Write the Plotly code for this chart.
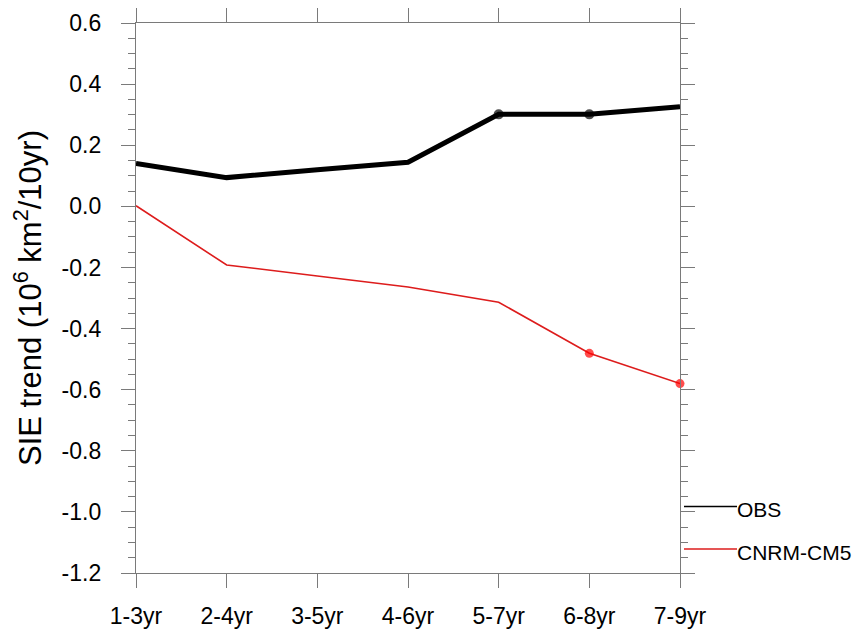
import plotly.graph_objects as go

categories = ["1-3yr", "2-4yr", "3-5yr", "4-6yr", "5-7yr", "6-8yr", "7-9yr"]
obs = [0.140, 0.094, 0.120, 0.144, 0.301, 0.301, 0.326]
cnrm = [0.002, -0.192, -0.228, -0.264, -0.314, -0.481, -0.580]
obs_sig = [False, False, False, False, True, True, False]
cnrm_sig = [False, False, False, False, False, True, True]
series_names = ["OBS", "CNRM-CM5"]
ytick_vals = [0.6, 0.4, 0.2, 0.0, -0.2, -0.4, -0.6, -0.8, -1.0, -1.2]
ytick_text = ["0.6", "0.4", "0.2", "0.0", "-0.2", "-0.4", "-0.6", "-0.8", "-1.0", "-1.2"]

AX = "#7a7a7a"
FONT = "Liberation Sans, Arial, sans-serif"
OFF = 8  # page body margin
W, H = 861 - OFF, 633 - OFF
L, T = 136 - OFF, 23 - OFF
R, B = W - (680 - OFF), H - (573 - OFF)
PW, PH = W - L - R, H - T - B

fig = go.Figure()
fig.add_trace(go.Scatter(
    x=categories, y=cnrm, mode="lines+markers", name=series_names[1],
    line=dict(color="#dd1c1c", width=1.6),
    marker=dict(color="#ff0000", size=[9 if s else 0 for s in cnrm_sig], line=dict(width=0)),
    showlegend=False, cliponaxis=False))
fig.add_trace(go.Scatter(
    x=categories, y=obs, mode="lines+markers", name=series_names[0],
    line=dict(color="black", width=5),
    marker=dict(color="black", size=[10 if s else 0 for s in obs_sig], line=dict(width=0)),
    showlegend=False, cliponaxis=False))

fig.update_layout(
    width=W, height=H,
    margin=dict(l=L, r=R, t=T, b=B, autoexpand=False),
    paper_bgcolor="white", plot_bgcolor="white",
    font=dict(family=FONT, size=23, color="black"),
)
fig.update_xaxes(
    type="category", range=[0, 6], showgrid=False, zeroline=False, automargin=False,
    showline=True, linecolor=AX, linewidth=1.3, mirror="ticks",
    ticks="outside", ticklen=14, tickcolor=AX, tickwidth=1.3,
    tickfont=dict(size=23, family=FONT), ticklabelstandoff=8,
)
fig.update_yaxes(
    range=[-1.2, 0.6], showgrid=False, zeroline=False, automargin=False,
    showline=True, linecolor=AX, linewidth=1.3, mirror="ticks",
    tickmode="array", tickvals=ytick_vals, ticktext=ytick_text,
    ticks="outside", ticklen=14, tickcolor=AX, tickwidth=1.3,
    minor=dict(dtick=0.05, tick0=0, ticks="outside", ticklen=7, tickcolor=AX, tickwidth=1.1, showgrid=False),
    tickfont=dict(size=23, family=FONT), ticklabelstandoff=15,
    title=dict(text="SIE trend (10<sup>6</sup> km<sup>2</sup>/10yr)", font=dict(size=31, family=FONT), standoff=22),
)

# legend (outside plot, bottom right), page coordinates
leg_line_y = [506.5, 549]
leg_text_y = [509, 552]
leg_colors = ["black", "#dd1c1c"]
for name, ly, ty, col in zip(series_names, leg_line_y, leg_text_y, leg_colors):
    fig.add_shape(type="line", xref="paper", yref="paper",
                  x0=(684 - OFF - L) / PW, x1=(737 - OFF - L) / PW,
                  y0=(H - B - (ly - OFF)) / PH, y1=(H - B - (ly - OFF)) / PH,
                  line=dict(color=col, width=1.3))
    fig.add_annotation(xref="paper", yref="paper", x=(737 - OFF - L) / PW, y=(H - B - (ty - OFF)) / PH,
                       text=name, showarrow=False, xanchor="left", yanchor="middle",
                       xshift=-2, font=dict(size=21, family=FONT, color="black"))

fig.write_html("out.html")
